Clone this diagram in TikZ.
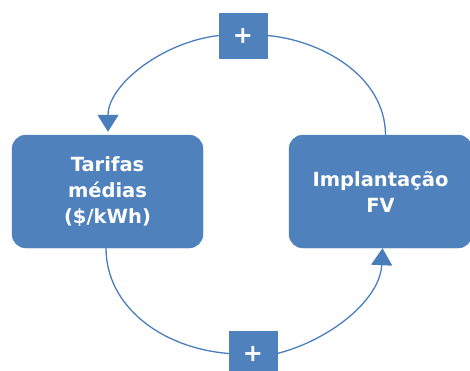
\documentclass[tikz,border=0pt]{standalone}
\usepackage{fontspec}
\setmainfont{DejaVu Sans}
\usetikzlibrary{arrows.meta}
\definecolor{boxblue}{HTML}{4F81BD}
\definecolor{lineblue}{HTML}{4A7EBB}
\begin{document}
\begin{tikzpicture}[x=1pt,y=-1pt,
  bigbox/.style={fill=boxblue,draw=boxblue,rounded corners=14pt,text=white,
    font=\fontsize{19.5}{26}\selectfont\bfseries,align=center,inner sep=0pt},
  plusbox/.style={fill=boxblue,draw=boxblue,text=white,minimum width=48pt,minimum height=45pt,
    font=\fontsize{24}{24}\selectfont\bfseries,inner sep=0pt},
  conn/.style={draw=lineblue,line width=1.3pt},
  tip/.style={-{Triangle[width=21pt,length=17pt]}}]
\useasboundingbox (0,0) rectangle (470,370);
\begin{scope}
\clip (0,0) rectangle (470,370);
\node[bigbox,minimum width=191pt,minimum height=113pt] (L) at (107.5,191.5) {Tarifas\\médias\\(\$/kWh)};
\node[bigbox,minimum width=183pt,minimum height=113pt] (R) at (380.5,191.5) {Implantação\\FV};
\node[plusbox] (P1) at (243,35.5) {+};
\node[plusbox] (P2) at (253,353.5) {+};
\draw[conn] ([xshift=5pt]R.north) .. controls (385,75) and (320,40) .. (P1.east);
\draw[conn,tip,shorten >=3pt] (P1.west) .. controls (162,42) and (108,85) .. ([xshift=0.5pt]L.north);
\draw[conn] ([xshift=-1.5pt]L.south) .. controls (106,305) and (160,348) .. (P2.west);
\draw[conn,tip] (P2.east) .. controls (330,340) and (380,300) .. ([xshift=2pt]R.south);
\end{scope}
\end{tikzpicture}
\end{document}
